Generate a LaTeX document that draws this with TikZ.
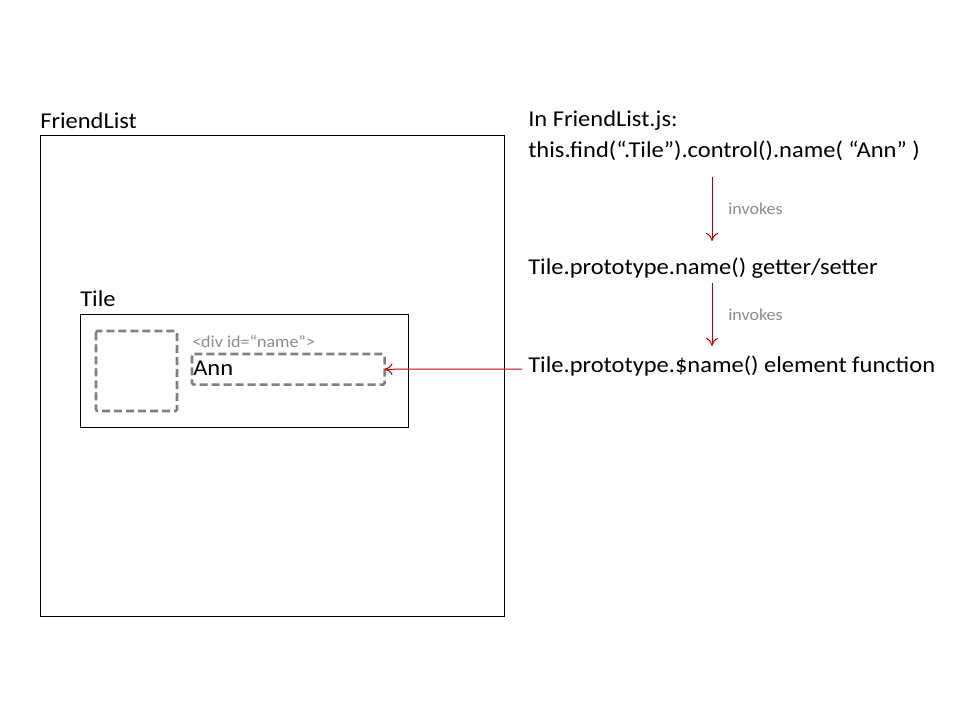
\documentclass[tikz,border=0pt]{standalone}
\usepackage{fontspec}
\setmainfont[FakeStretch=1.08]{Carlito}
\usetikzlibrary{arrows.meta}
\definecolor{dgray}{HTML}{808080}
\definecolor{lgray}{HTML}{8C8C8C}
\definecolor{ared}{HTML}{C00000}
\tikzset{
  px/.style={x=0.75pt,y=-0.75pt},
  solidbox/.style={draw=black,line width=0.75pt},
  dashbox/.style={draw=dgray,line width=1.9pt,dash pattern=on 6pt off 3pt,rounded corners=1pt},
  lbl/.style={inner sep=0pt,anchor=west,font=\fontsize{17}{20}\selectfont},
  small/.style={inner sep=0pt,anchor=west,text=lgray,font=\fontsize{12.5}{14}\selectfont},
  redarrow/.style={draw=ared,line width=0.75pt,-{To[length=6pt,width=9pt]}}
}
\begin{document}
\begin{tikzpicture}[px]
\useasboundingbox[fill=white] (0,0) rectangle (960,720);
% FriendList box
\node[lbl] (flabel) at (40,121) {FriendList};
\draw[solidbox] (40,136) rectangle (504,616);
% Tile
\node[lbl] (tlabel) at (80,299) {Tile};
\draw[solidbox] (80,314) rectangle (408,427);
% dashed boxes
\draw[dashbox] (96,331) rectangle (177,411);
\node[small] (divlbl) at (192,342) {<div id=“name”>};
\node[draw=none,minimum width=144pt,minimum height=22.5pt,inner sep=0pt,anchor=north west] (namebox) at (192,354) {};
\draw[dashbox] (namebox.north west) rectangle (namebox.south east);
\node[lbl] (ann) at (193,368) {Ann};
% right side texts
\node[lbl] (t1) at (528,121) {In FriendList.js:};
\node[lbl] (t2) at (528,151) {this.find(“.Tile”).control().name( “Ann” )};
\node[lbl] (t3) at (528,268) {Tile.prototype.name() getter/setter};
\node[lbl] (t4) at (528,366) {Tile.prototype.\$name() element function};
% arrows
\coordinate (a1s) at (712,177);
\coordinate (a1e) at (712,241);
\coordinate (a2s) at (712,283);
\coordinate (a2e) at (712,346);
\coordinate (a3s) at (522,369);
\draw[redarrow] (a1s) -- (a1e);
\draw[redarrow] (a2s) -- (a2e);
\node[small] (inv1) at (728,209) {invokes};
\node[small] (inv2) at (728,315) {invokes};
\draw[redarrow] (a3s) -- (namebox.east);
\end{tikzpicture}
\end{document}
